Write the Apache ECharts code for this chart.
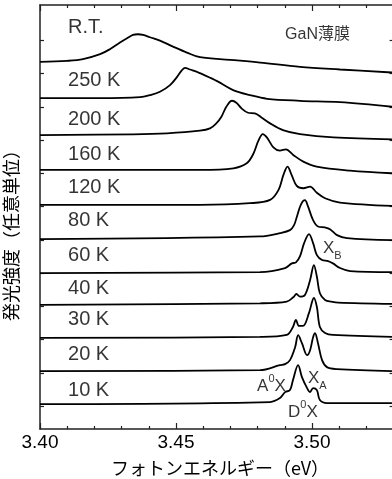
<!DOCTYPE html>
<html>
<head>
<meta charset="utf-8">
<script src="https://cdn.jsdelivr.net/npm/echarts@6/dist/echarts.min.js"></script>
<style>
html, body { margin: 0; padding: 0; background: #fff; }
#chart { width: 392px; height: 479px; }
</style>
</head>
<body>
<div id="chart"></div>
<script>
// spectra top to bottom, intensity relative to each baseline (arb. units)
const tempLabels = ["R.T.", "250 K", "200 K", "160 K", "120 K", "80 K", "60 K", "40 K", "30 K", "20 K", "10 K"];
const offsets = [11.04, 9.95, 8.84, 7.79, 6.74, 5.71, 4.69, 3.73, 2.74, 1.74, 0.75];
const labelX = 3.4103;
const labelY = [12.06, 10.47, 9.32, 8.24, 7.25, 6.26, 5.23, 4.24, 3.28, 2.23, 1.17];

const eRT = [3.4000, 3.4099, 3.4158, 3.4221, 3.4257, 3.4294, 3.4320, 3.4342, 3.4360, 3.4379, 3.4404, 3.4441, 3.4489, 3.4540, 3.4588, 3.4699, 3.4809, 3.4956, 3.5103, 3.5294];
const iRT = [0, 0.03, 0.08, 0.23, 0.38, 0.58, 0.71, 0.81, 0.83, 0.81, 0.74, 0.64, 0.46, 0.28, 0.14, 0.06, -0.02, -0.15, -0.23, -0.32];

const e250 = [3.4000, 3.4221, 3.4368, 3.4404, 3.4441, 3.4478, 3.4504, 3.4522, 3.4533, 3.4551, 3.4577, 3.4588, 3.4651, 3.4710, 3.4772, 3.4835, 3.4956, 3.5103, 3.5294];
const i250 = [0, 0, 0.03, 0.09, 0.19, 0.39, 0.64, 0.84, 0.91, 0.86, 0.79, 0.75, 0.51, 0.24, 0.09, -0.02, -0.08, -0.12, -0.26];

const e200 = [3.4000, 3.4342, 3.4467, 3.4588, 3.4625, 3.4648, 3.4667, 3.4685, 3.4706, 3.4722, 3.4741, 3.4765, 3.4790, 3.4814, 3.4846, 3.4893, 3.4956, 3.5079, 3.5294];
const i200 = [0, 0.02, 0.05, 0.13, 0.20, 0.35, 0.55, 0.85, 1.03, 0.97, 0.80, 0.67, 0.65, 0.53, 0.35, 0.15, 0.03, -0.07, -0.13];

const e160 = [3.4000, 3.4588, 3.4711, 3.4760, 3.4784, 3.4803, 3.4819, 3.4834, 3.4858, 3.4882, 3.4904, 3.4931, 3.4968, 3.5017, 3.5140, 3.5294];
const i160 = [0, 0, 0.05, 0.20, 0.48, 0.88, 1.08, 0.98, 0.68, 0.58, 0.62, 0.45, 0.25, 0.10, -0.02, -0.10];

const e120 = [3.4000, 3.4588, 3.4772, 3.4846, 3.4877, 3.4895, 3.4910, 3.4925, 3.4944, 3.4968, 3.4993, 3.5017, 3.5048, 3.5103, 3.5294];
const i120 = [0, 0, 0.05, 0.15, 0.45, 0.90, 1.15, 0.90, 0.57, 0.50, 0.55, 0.37, 0.20, 0.07, -0.03];

const e80 = [3.4000, 3.4809, 3.4882, 3.4919, 3.4934, 3.4945, 3.4960, 3.4974, 3.4985, 3.5004, 3.5022, 3.5048, 3.5066, 3.5092, 3.5129, 3.5294];
const i80 = [0, 0.08, 0.18, 0.27, 0.42, 0.69, 1.05, 1.17, 0.99, 0.57, 0.38, 0.35, 0.30, 0.12, 0.03, -0.03];

const e60 = [3.4000, 3.4809, 3.4901, 3.4926, 3.4941, 3.4956, 3.4971, 3.4989, 3.5004, 3.5018, 3.5037, 3.5059, 3.5077, 3.5103, 3.5140, 3.5294];
const i60 = [0, 0.03, 0.15, 0.29, 0.32, 0.51, 0.90, 1.17, 0.90, 0.54, 0.39, 0.36, 0.29, 0.15, 0.06, 0.03];

const e40 = [3.4000, 3.4809, 3.4907, 3.4931, 3.4943, 3.4956, 3.4974, 3.4993, 3.5007, 3.5018, 3.5029, 3.5048, 3.5072, 3.5096, 3.5294];
const i40 = [0, 0.05, 0.10, 0.23, 0.33, 0.25, 0.30, 0.75, 1.20, 0.85, 0.35, 0.15, 0.10, 0.07, 0.03];

const e30 = [3.4000, 3.4809, 3.4907, 3.4930, 3.4941, 3.4952, 3.4967, 3.4989, 3.5007, 3.5018, 3.5029, 3.5048, 3.5077, 3.5294];
const i30 = [0, 0.03, 0.09, 0.33, 0.54, 0.36, 0.36, 0.75, 1.20, 0.93, 0.33, 0.15, 0.09, 0.03];

const e20 = [3.4000, 3.4809, 3.4882, 3.4901, 3.4919, 3.4938, 3.4949, 3.4963, 3.4982, 3.4993, 3.5004, 3.5011, 3.5022, 3.5037, 3.5055, 3.5092, 3.5294];
const i20 = [0, 0.03, 0.18, 0.21, 0.33, 0.72, 1.08, 0.84, 0.48, 0.63, 1.02, 1.14, 0.84, 0.33, 0.12, 0.06, 0];

const e10 = [3.4000, 3.4846, 3.4882, 3.4901, 3.4919, 3.4930, 3.4949, 3.4963, 3.4982, 3.4993, 3.5004, 3.5018, 3.5029, 3.5055, 3.5294];
const i10 = [0, 0.06, 0.18, 0.36, 0.42, 0.72, 1.17, 0.81, 0.48, 0.36, 0.48, 0.42, 0.12, 0.03, 0.03];

// peak annotations: text, energy, y
const peakText = ["{b|X}{sub|B}", "{b|X}{sub|A}", "{b|A}{sup|0}{b|X}", "{b|D}{sup|0}{b|X}", "{g|GaN薄膜}"];
const peakE = [3.5040, 3.4985, 3.4798, 3.4912, 3.4901];
const peakY = [5.44, 1.53, 1.29, 0.51, 11.85];

const yTicks = [0.69, 1.69, 2.69, 3.69, 4.69, 5.69, 6.69, 7.69, 8.69, 9.69, 10.69, 11.69];

const font = "'Liberation Sans', Arial, 'Noto Sans CJK JP', sans-serif";
const jpFont = "'Noto Sans CJK JP', sans-serif";

const spectra = [[eRT, iRT], [e250, i250], [e200, i200], [e160, i160], [e120, i120], [e80, i80],
	[e60, i60], [e40, i40], [e30, i30], [e20, i20], [e10, i10]];

const chart = echarts.init(document.getElementById("chart"), null, { renderer: "canvas" });

const axisCol = "#222";
const series = [];

spectra.forEach(([es, is], k) => {
	series.push({
		type: "line",
		data: es.map((e, j) => [e, offsets[k] + is[j]]),
		showSymbol: false,
		smooth: 0.35,
		lineStyle: { color: "#000", width: 1.8 },
		silent: true
	})
})

series.push({
	type: "scatter",
	symbolSize: 0,
	data: tempLabels.map((t, k) => ({ value: [labelX, labelY[k]], name: t })),
	label: {
		show: true, position: "right", distance: 0,
		formatter: p => p.name,
		fontFamily: font, fontSize: 20, color: "#000"
	},
	silent: true
})

series.push({
	type: "scatter",
	symbolSize: 0,
	data: peakText.map((t, k) => ({ value: [peakE[k], peakY[k]], name: t })),
	label: {
		show: true, position: "right", distance: 0,
		formatter: p => p.name,
		color: "#000",
		rich: {
			b: { fontFamily: font, fontSize: 17, lineHeight: 26, verticalAlign: "middle", color: "#000" },
			sub: { fontFamily: font, fontSize: 11, lineHeight: 26, verticalAlign: "bottom", color: "#000" },
			sup: { fontFamily: font, fontSize: 11, lineHeight: 26, verticalAlign: "top", color: "#000" },
			g: { fontFamily: font, fontSize: 16, color: "#000" }
		}
	},
	silent: true
})

const xBase = {
	type: "value", min: 3.40, max: 3.55, interval: 0.05,
	axisLine: { show: true, onZero: false, lineStyle: { color: axisCol, width: 1.5 } },
	axisTick: { show: true, inside: true, length: 6, lineStyle: { color: axisCol, width: 1.2 } },
	minorTick: { show: true, splitNumber: 5, length: 3, lineStyle: { color: axisCol, width: 1.2 } },
	splitLine: { show: false }
}

const yBase = {
	type: "value", min: 0, max: 12.75,
	axisLine: { show: true, onZero: false, lineStyle: { color: axisCol, width: 1.5 } },
	axisTick: { show: true, inside: true, length: 4, customValues: yTicks, lineStyle: { color: axisCol, width: 1.2 } },
	axisLabel: { show: false },
	splitLine: { show: false }
}

chart.setOption({
	animation: false,
	backgroundColor: "#fff",
	grid: { left: 40, top: 5, width: 408, height: 424, containLabel: false, outerBoundsMode: "none" },
	xAxis: [
		Object.assign({}, xBase, {
			position: "bottom",
			axisLabel: { show: true, formatter: v => v.toFixed(2), fontFamily: font, fontSize: 19, color: "#000", margin: 4 },
			name: "フォトンエネルギー（eV）",
			nameLocation: "middle",
			nameGap: 30,
			nameTextStyle: { fontFamily: jpFont, fontSize: 18, color: "#000", padding: [0, 48, 0, 0] }
		}),
		Object.assign({}, xBase, { position: "top", axisLabel: { show: false } })
	],
	yAxis: [
		Object.assign({}, yBase, {
			position: "left",
			name: "発光強度（任意単位）",
			nameLocation: "middle",
			nameGap: 20,
			nameTextStyle: { fontFamily: jpFont, fontSize: 18, color: "#000", padding: [0, 28, 0, 0] }
		}),
		Object.assign({}, yBase, { position: "right", offset: -54.4 })
	],
	series: series
});
</script>
</body>
</html>
